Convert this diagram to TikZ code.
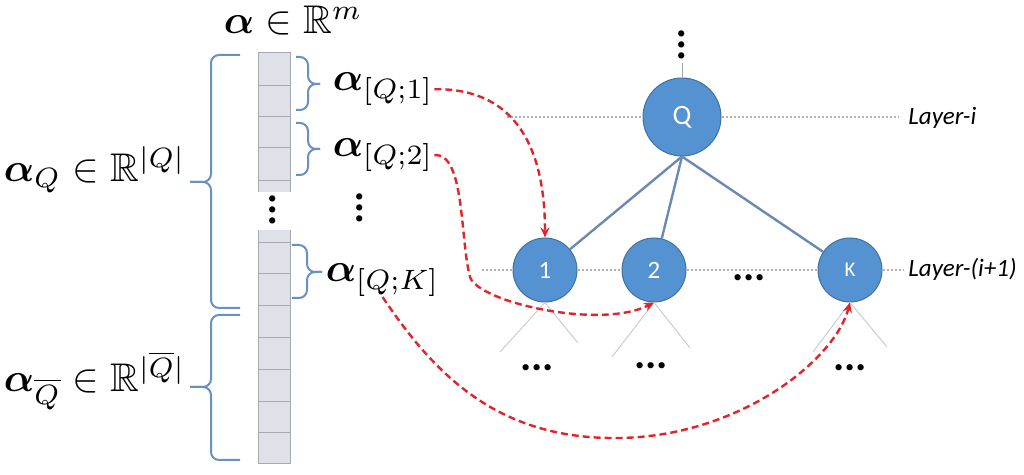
\documentclass[tikz,border=0pt]{standalone}
\usepackage{amsmath,amssymb,bm}
\usepackage{fontspec}
\newfontfamily\carl{Carlito}
\usetikzlibrary{arrows.meta}
\definecolor{treefill}{HTML}{5592D2}
\definecolor{treedraw}{HTML}{41719C}
\definecolor{edgecol}{HTML}{6B8AB2}
\definecolor{bracecol}{HTML}{6A90C2}
\definecolor{cellfill}{HTML}{DEE2E8}
\definecolor{cellline}{HTML}{A6ABB1}
\definecolor{redcol}{HTML}{E0242C}
\begin{document}
\begin{tikzpicture}[x=0.5pt,y=-0.5pt,
  mathlbl/.style={inner sep=0pt, scale=2, anchor=base west},
  treenode/.style={circle, fill=treefill, draw=treedraw, line width=0.5pt, inner sep=0pt, text=white},
  layerline/.style={draw=gray!60, line width=0.7pt, dash pattern=on 1pt off 1pt},
  layerlbl/.style={inner sep=0pt, anchor=base west, font=\carl\itshape\fontsize{12.5}{15}\selectfont},
  edgeline/.style={draw=edgecol, line width=1.2pt},
  childline/.style={draw=gray!40, line width=0.5pt},
  bracepath/.style={draw=bracecol, line width=1pt, rounded corners=4pt},
  cellbox/.style={fill=cellfill},
  cellrule/.style={draw=cellline, line width=0.5pt},
  dotsnode/.style={inner sep=0pt, font=\carl\bfseries\fontsize{21}{21}\selectfont},
  redarrow/.style={draw=redcol, line width=1.2pt, dash pattern=on 3.5pt off 2pt, -{Stealth[length=5pt,width=4.5pt]}}
]
\useasboundingbox (0,0) rectangle (1024,475);

% vector column
\fill[cellbox] (258,53) rectangle (290,192);
\draw[cellrule] (258,192) -- (258,53) -- (290,53) -- (290,192);
\foreach \yy in {86,117,148,181} \draw[cellrule] (258,\yy) -- (290,\yy);
\fill[cellbox] (258,230) rectangle (290,464);
\draw[cellrule] (258,230) -- (258,464) -- (290,464) -- (290,230);
\foreach \yy in {243,274,306,338,370,402,433} \draw[cellrule] (258,\yy) -- (290,\yy);

% vertical dots
\node[dotsnode, rotate=90] (vd1) at (273,210) {...};
\node[dotsnode, rotate=90] (vd2) at (360,208) {...};

% big left braces
\draw[bracepath] (240,55) -- (211,55) -- (211,182) -- (190,182);
\draw[bracepath] (190,182) -- (211,182) -- (211,308) -- (240,308);
\draw[bracepath] (240,315) -- (211,315) -- (211,387) -- (190,387);
\draw[bracepath] (190,387) -- (211,387) -- (211,460) -- (240,460);

% small right braces
\draw[bracepath] (296,57) -- (308,57) -- (308,84) -- (320,84);
\draw[bracepath] (320,84) -- (308,84) -- (308,110) -- (296,110);
\draw[bracepath] (296,123) -- (308,123) -- (308,149) -- (320,149);
\draw[bracepath] (320,149) -- (308,149) -- (308,175) -- (296,175);
\draw[bracepath] (292,245) -- (307,245) -- (307,272) -- (322,272);
\draw[bracepath] (322,272) -- (307,272) -- (307,298) -- (292,298);

% math labels
\node[mathlbl] (top) at (223,34) {$\bm{\alpha}\in\mathbb{R}^m$};
\node[mathlbl] (aQ) at (3,182) {$\bm{\alpha}_Q\in\mathbb{R}^{|Q|}$};
\node[mathlbl] (aQb) at (3,392) {$\bm{\alpha}_{\overline{Q}}\in\mathbb{R}^{|\overline{Q}|}$};
\node[mathlbl] (a1) at (332,91) {$\bm{\alpha}_{[Q;1]}$};
\node[mathlbl] (a2) at (332,157) {$\bm{\alpha}_{[Q;2]}$};
\node[mathlbl] (aK) at (325,282) {$\bm{\alpha}_{[Q;K]}$};

% tree nodes
\node[treenode, minimum size=39pt, font=\carl\fontsize{14}{14}\selectfont] (Q) at (682,117) {Q};
\node[treenode, minimum size=32pt, font=\carl\fontsize{12.5}{12.5}\selectfont] (n1) at (545,270) {1};
\node[treenode, minimum size=32pt, font=\carl\fontsize{12.5}{12.5}\selectfont] (n2) at (654,270) {2};
\node[treenode, minimum size=32pt, font=\carl\fontsize{10.5}{10.5}\selectfont] (nK) at (850,270) {K};

% top dots and line
\node[dotsnode, rotate=90] (qd) at (682,45) {...};
\draw[draw=gray!70, line width=0.4pt] (Q.north) -- (682,63);

% layer lines and labels
\node[layerlbl] (L1) at (908,125) {Layer-i};
\node[layerlbl] (L2) at (908,277) {Layer-(i+1)};
\draw[layerline] (507,117) -- (Q.west);
\draw[layerline] (Q.east) -- (898,117);
\draw[layerline] (482,270) -- (n1.west);
\draw[layerline] (n1.east) -- (n2.west);
\draw[layerline] (n2.east) -- (nK.west);
\draw[layerline] (nK.east) -- (904,270);
\node[dotsnode] (md) at (749,278) {...};

% edges
\draw[edgeline] (Q.south) -- (n1);
\draw[edgeline] (Q.south) -- (n2);
\draw[edgeline] (Q.south) -- (nK);

% child lines
\draw[childline] (n1.south) -- (500,352);
\draw[childline] (n1.south) -- (578,343);
\draw[childline] (n2.south) -- (612,357);
\draw[childline] (n2.south) -- (690,348);
\draw[childline] (nK.south) -- (813,352);
\draw[childline] (nK.south) -- (887,347);
\node[dotsnode] (d1) at (537,368) {...};
\node[dotsnode] (d2) at (651,366) {...};
\node[dotsnode] (d3) at (850,368) {...};

% red arrows
\coordinate (c2) at (470,277);
\coordinate (c3) at (620,438);
\draw[redarrow] (a1.east) .. controls (510,88) and (545,140) .. (n1.north);
\draw[redarrow] (a2.east) .. controls (465,152) and (460,240) .. (c2) .. controls (478,302) and (600,330) .. (n2.south);
\draw[redarrow] (aK.south) .. controls (436,377) and (500,440) .. (c3) .. controls (740,436) and (835,360) .. (nK.south);
\end{tikzpicture}
\end{document}
